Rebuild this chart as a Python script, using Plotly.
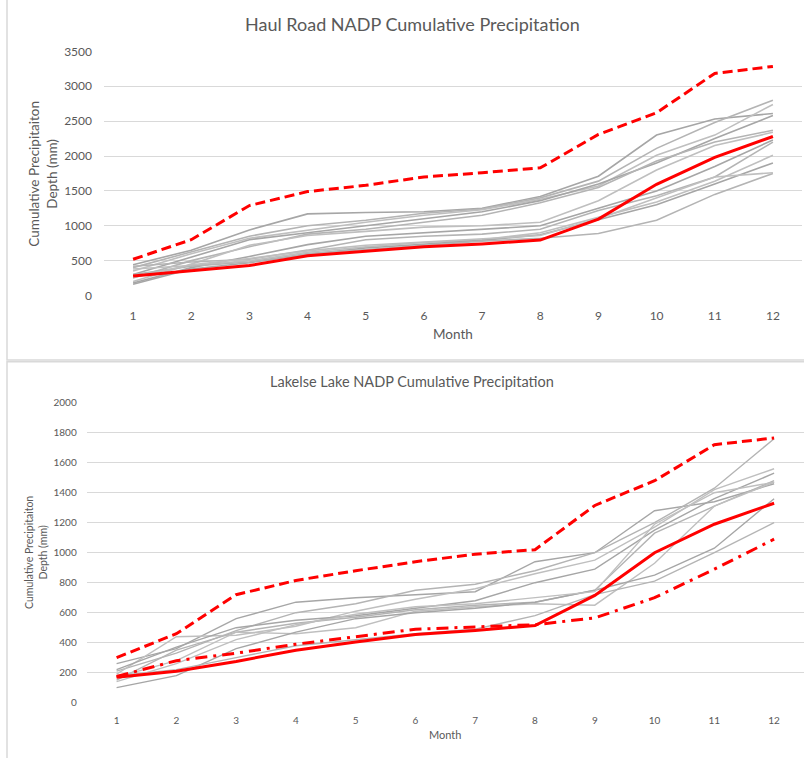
import plotly.graph_objects as go

months = list(range(1, 13))

# ---- Haul Road (top) ----
haul_max = [520, 800, 1290, 1490, 1580, 1700, 1760, 1830, 2310, 2620, 3185, 3285]
haul_cur = [280, 360, 430, 570, 640, 700, 740, 795, 1095, 1595, 1980, 2280]
haul_grey = [
    [440, 650, 940, 1170, 1190, 1200, 1250, 1420, 1710, 2300, 2530, 2610],
    [400, 620, 850, 1000, 1080, 1180, 1240, 1400, 1640, 2110, 2480, 2800],
    [350, 600, 820, 940, 1050, 1150, 1230, 1380, 1570, 2010, 2300, 2740],
    [300, 550, 800, 900, 1000, 1100, 1200, 1360, 1600, 1900, 2250, 2580],
    [250, 500, 700, 880, 950, 1050, 1150, 1330, 1550, 1930, 2200, 2370],
    [200, 450, 720, 860, 920, 980, 1000, 1050, 1360, 1800, 2150, 2340],
    [180, 400, 560, 730, 850, 900, 950, 1000, 1250, 1500, 1850, 2230],
    [420, 480, 520, 650, 800, 850, 880, 950, 1220, 1430, 1700, 2200],
    [380, 430, 500, 620, 700, 760, 800, 900, 1120, 1340, 1640, 2010],
    [160, 380, 470, 590, 680, 740, 790, 870, 1080, 1300, 1600, 1900],
    [300, 420, 480, 600, 660, 720, 780, 820, 890, 1080, 1450, 1750],
    [260, 440, 530, 640, 720, 770, 820, 860, 1100, 1400, 1700, 1760],
]

# ---- Lakelse Lake (bottom) ----
lake_max = [300, 460, 720, 815, 880, 940, 990, 1020, 1315, 1480, 1720, 1765]
lake_cur = [170, 210, 275, 350, 405, 455, 482, 514, 715, 1000, 1190, 1330]
lake_min = [175, 280, 330, 390, 440, 490, 505, 520, 565, 700, 890, 1090]
lake_grey = [
    [260, 360, 560, 670, 700, 720, 740, 940, 1000, 1280, 1340, 1460],
    [210, 330, 480, 600, 660, 750, 790, 880, 1000, 1200, 1430, 1760],
    [190, 440, 450, 510, 610, 690, 760, 860, 950, 1170, 1420, 1560],
    [220, 370, 500, 550, 580, 630, 680, 800, 890, 1150, 1360, 1530],
    [150, 350, 470, 530, 570, 620, 650, 670, 750, 1130, 1310, 1480],
    [170, 280, 470, 460, 500, 610, 640, 660, 650, 930, 1310, 1470],
    [100, 180, 360, 470, 560, 600, 630, 670, 750, 850, 1030, 1360],
    [180, 220, 300, 380, 420, 460, 490, 580, 720, 810, 1000, 1200],
    [140, 260, 420, 520, 590, 640, 660, 700, 740, 1190, 1400, 1470],
]

W, H = 804, 758
FONT = "Lato"
TXT = "#595959"
GRID = "#d9d9d9"
RED = "#ff0000"
greys = ["#a6a6a6", "#b4b4b4", "#bfbfbf"]

def px(x):
    return x / W

def py(y):
    return 1 - y / H

fig = go.Figure()

for i, s in enumerate(haul_grey):
    fig.add_trace(go.Scatter(x=months, y=s, mode="lines", xaxis="x", yaxis="y",
                             line=dict(color=greys[i % 3], width=1.6), showlegend=False))
fig.add_trace(go.Scatter(x=months, y=haul_max, mode="lines", xaxis="x", yaxis="y",
                         line=dict(color=RED, width=3, dash="10px,5px"), showlegend=False))
fig.add_trace(go.Scatter(x=months, y=haul_cur, mode="lines", xaxis="x", yaxis="y",
                         line=dict(color=RED, width=3), showlegend=False))

for i, s in enumerate(lake_grey):
    fig.add_trace(go.Scatter(x=months, y=s, mode="lines", xaxis="x2", yaxis="y2",
                             line=dict(color=greys[i % 3], width=1.4), showlegend=False))
fig.add_trace(go.Scatter(x=months, y=lake_max, mode="lines", xaxis="x2", yaxis="y2",
                         line=dict(color=RED, width=3, dash="10px,5px"), showlegend=False))
fig.add_trace(go.Scatter(x=months, y=lake_min, mode="lines", xaxis="x2", yaxis="y2",
                         line=dict(color=RED, width=3, dash="12px,6px,3px,6px"), showlegend=False))
fig.add_trace(go.Scatter(x=months, y=lake_cur, mode="lines", xaxis="x2", yaxis="y2",
                         line=dict(color=RED, width=3), showlegend=False))

xcommon = dict(range=[0.5, 12.5], tickvals=months, showgrid=False, zeroline=False,
               showline=False, ticks="")
ycommon = dict(showgrid=True, gridcolor=GRID, gridwidth=1, zeroline=False,
               showline=False, ticks="")

fig.update_layout(
    width=W, height=H,
    margin=dict(l=0, r=0, t=0, b=0),
    paper_bgcolor="white", plot_bgcolor="white",
    font=dict(family=FONT, color=TXT),
    xaxis=dict(domain=[px(104), px(802)], anchor="y",
               tickfont=dict(size=12, color=TXT), ticklabelstandoff=12, **xcommon),
    yaxis=dict(domain=[py(293.3), py(44.3)], anchor="x", range=[0, 3500], dtick=500,
               tickfont=dict(size=12, color=TXT), ticklabelstandoff=11, **ycommon),
    xaxis2=dict(domain=[px(86.7), 1.0], anchor="y2",
                tickfont=dict(size=10, color=TXT), ticklabelstandoff=10, **xcommon),
    yaxis2=dict(domain=[py(708.7), py(402.7)], anchor="x2", range=[0, 2000], dtick=200,
                tickfont=dict(size=10, color=TXT), ticklabelstandoff=9, **ycommon),
    shapes=[
        dict(type="rect", xref="paper", yref="paper", x0=px(7), x1=px(812), y0=py(359), y1=py(-10),
             line=dict(color=GRID, width=1.5), layer="below"),
        dict(type="rect", xref="paper", yref="paper", x0=px(7), x1=px(812), y0=py(770), y1=py(361),
             line=dict(color=GRID, width=1.5), layer="below"),
    ],
    annotations=[
        dict(text="Haul Road NADP Cumulative Precipitation", x=px(412.5), y=py(16),
             xref="paper", yref="paper", showarrow=False, xanchor="center", yanchor="middle",
             font=dict(size=18, color=TXT)),
        dict(text="Month", x=px(453), y=py(333), xref="paper", yref="paper", showarrow=False,
             xanchor="center", yanchor="middle", font=dict(size=13.5, color=TXT)),
        dict(text="Cumulative Precipitaiton<br>Depth (mm)", x=px(43), y=py(169),
             xref="paper", yref="paper", showarrow=False, xanchor="center", yanchor="middle",
             textangle=-90, font=dict(size=13.5, color=TXT)),
        dict(text="Lakelse Lake NADP Cumulative Precipitation", x=px(411.5), y=py(380.7),
             xref="paper", yref="paper", showarrow=False, xanchor="center", yanchor="middle",
             font=dict(size=14.5, color=TXT)),
        dict(text="Month", x=px(445.5), y=py(740.7), xref="paper", yref="paper", showarrow=False,
             xanchor="center", yanchor="middle", font=dict(size=11, color=TXT)),
        dict(text="Cumulative Precipitaiton<br>Depth (mm)", x=px(36), y=py(556),
             xref="paper", yref="paper", showarrow=False, xanchor="center", yanchor="middle",
             textangle=-90, font=dict(size=10.5, color=TXT)),
    ],
)

fig.write_html("out.html")
